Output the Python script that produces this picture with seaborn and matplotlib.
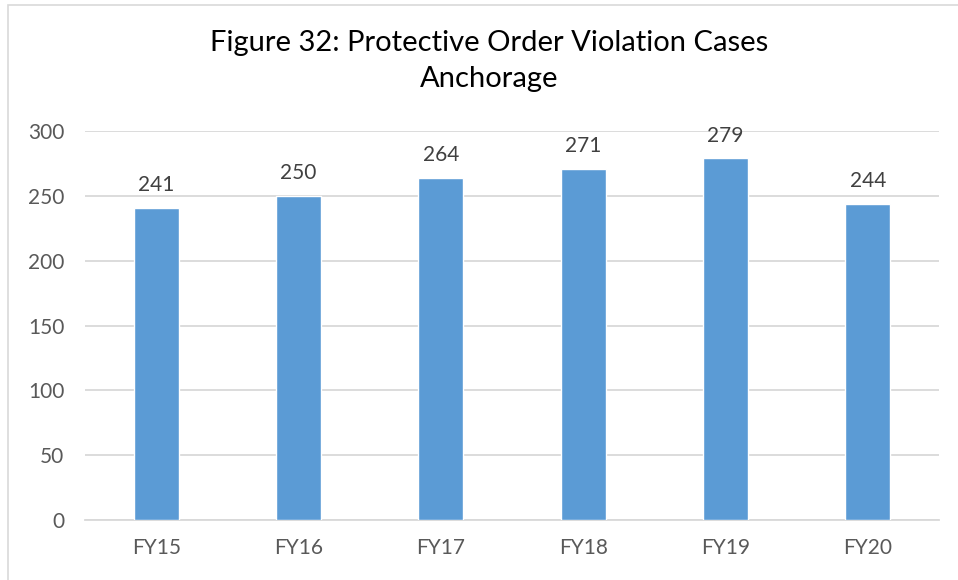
import matplotlib
matplotlib.use("Agg")
import matplotlib.pyplot as plt
import matplotlib.patches as mpatches
import seaborn as sns
import pandas as pd

# Dados do gráfico
anos = ["FY15", "FY16", "FY17", "FY18", "FY19", "FY20"]
casos = [241, 250, 264, 271, 279, 244]
titulo = "Figure 32: Protective Order Violation Cases\nAnchorage"

COR_BARRA = "#5B9BD5"
COR_GRADE = "#D9D9D9"
COR_TEXTO = "#595959"

sns.set_theme(style="white")
plt.rcParams["font.family"] = ["Lato", "DejaVu Sans"]

df = pd.DataFrame({"ano": anos, "casos": casos})

fig = plt.figure(figsize=(9.58, 5.80), dpi=100)
ax = fig.add_axes([85 / 958, 60 / 580, (939 - 85) / 958, (520 - 131) / 580])

sns.barplot(data=df, x="ano", y="casos", color=COR_BARRA, width=0.316,
            saturation=1, ax=ax, zorder=3)

ax.set_ylim(0, 300)
ax.set_yticks(range(0, 301, 50))
ax.set_xlim(-0.5, len(anos) - 0.5)
ax.yaxis.grid(True, color=COR_GRADE, linewidth=1.3, zorder=0)
ax.set_axisbelow(True)
for lado in ["top", "right", "left"]:
    ax.spines[lado].set_visible(False)
ax.spines["bottom"].set_color(COR_GRADE)
ax.spines["bottom"].set_linewidth(1.3)
ax.tick_params(axis="both", length=0, labelsize=15, labelcolor=COR_TEXTO)
ax.tick_params(axis="y", pad=15)
ax.tick_params(axis="x", pad=13)
ax.set_xlabel("")
ax.set_ylabel("")

ax.bar_label(ax.containers[0], labels=[str(v) for v in casos], padding=9,
             fontsize=15, color="#404040")

fig.text(489 / 958, 1 - 61 / 580, titulo, ha="center", va="center",
         fontsize=21, color="#000000", linespacing=1.5)

# borda cinza do quadro
fig.patches.append(mpatches.Rectangle((8 / 958, -0.1), 1.2, 1.1 - 5 / 580,
                                      transform=fig.transFigure, fill=False,
                                      edgecolor=COR_GRADE, linewidth=1.2))

fig.savefig("out.png", dpi=100)
